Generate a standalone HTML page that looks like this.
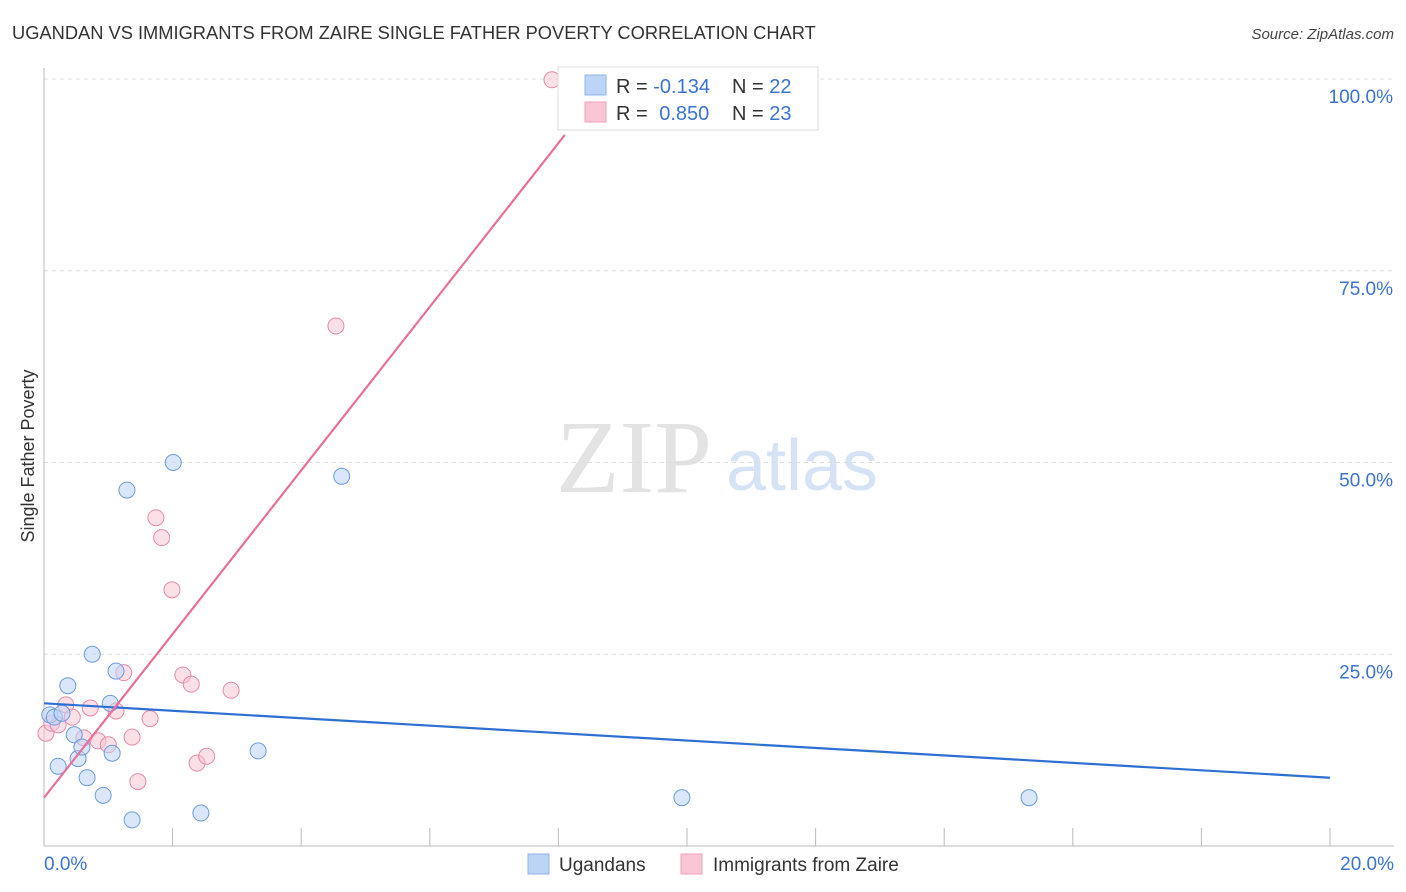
<!DOCTYPE html>
<html><head><meta charset="utf-8"><style>
body{margin:0;background:#fff;font-family:"Liberation Sans",sans-serif;}
#c{position:absolute;left:0;top:0;width:1406px;height:892px;overflow:hidden}
</style></head><body><div id="c">
<svg id="s" width="1406" height="892" xmlns="http://www.w3.org/2000/svg">
<text x="12" y="39" font-size="18.3" fill="#333">UGANDAN VS IMMIGRANTS FROM ZAIRE SINGLE FATHER POVERTY CORRELATION CHART</text>
<text x="1394" y="39" font-size="15" fill="#444" font-style="italic" text-anchor="end">Source: ZipAtlas.com</text>
<text x="634" y="492" font-size="104" fill="#e3e3e3" font-family="Liberation Serif,serif" text-anchor="middle">ZIP</text>
<text x="802" y="490" font-size="72" fill="#d5e3f5" text-anchor="middle">atlas</text>
<text transform="translate(34,456) rotate(-90)" font-size="18" fill="#333" text-anchor="middle">Single Father Poverty</text>
<g id="grid"></g><g id="marks"></g>
<g id="legend">
<rect x="558" y="67" width="260" height="63" fill="#fff" fill-opacity="0.9" stroke="#ddd"/>
<rect x="585" y="75" width="21" height="20" fill="#bcd4f5" stroke="#8fb3e8"/>
<rect x="585" y="102" width="21" height="20" fill="#f9c6d6" stroke="#eea0b9"/>
<text x="616" y="93" font-size="20" fill="#333">R = <tspan fill="#3a73d0">-0.134</tspan></text>
<text x="732" y="93" font-size="20" fill="#333">N = <tspan fill="#3a73d0">22</tspan></text>
<text x="616" y="120" font-size="20" fill="#333">R = <tspan fill="#3a73d0" dx="6">0.850</tspan></text>
<text x="732" y="120" font-size="20" fill="#333">N = <tspan fill="#3a73d0">23</tspan></text>
</g>
<g>
<rect x="528" y="854" width="21" height="20" fill="#bcd4f5" stroke="#8fb3e8"/>
<text x="559" y="871" font-size="19" fill="#333">Ugandans</text>
<rect x="681" y="854" width="21" height="20" fill="#f9c6d6" stroke="#eea0b9"/>
<text x="713" y="871" font-size="19" fill="#333">Immigrants from Zaire</text>
</g>
</svg></div>
<script>
const blueX=[0.09,0.16,0.22,0.28,0.37,0.47,0.53,0.59,0.67,0.75,0.92,1.03,1.06,1.12,1.29,1.37,2.01,2.44,3.33,4.63,9.92,15.32];
const blueY=[17.1,16.8,10.4,17.3,20.9,14.5,11.4,12.9,8.9,25.0,6.6,18.6,12.1,22.8,46.4,3.4,50.0,4.3,12.4,48.2,6.3,6.3];
const pinkX=[0.03,0.12,0.22,0.34,0.44,0.62,0.72,0.84,1.0,1.12,1.24,1.37,1.46,1.65,1.74,1.83,1.99,2.16,2.29,2.38,2.53,2.91,4.54,7.9];
const pinkY=[14.7,16.0,15.8,18.4,16.8,14.1,18.0,13.7,13.2,17.6,22.6,14.2,8.4,16.6,42.8,40.2,33.4,22.3,21.1,10.8,11.7,20.3,67.8,99.9];
const blueLine=[18.6,8.9];
const pinkLine=[6.3,92.7];
const pinkLineEndX=8.1;
const yTicks=[25,50,75,100];
const yTickLabels=["25.0%","50.0%","75.0%","100.0%"];
const xEnds=["0.0%","20.0%"];
const NS="http://www.w3.org/2000/svg";
const X=v=>44+v*64.3, Y=v=>846-v*7.67;
function mk(t,a,p){const e=document.createElementNS(NS,t);for(const k in a)e.setAttribute(k,a[k]);p.appendChild(e);return e;}
const g=document.getElementById('grid'), m=document.getElementById('marks');
yTicks.forEach((t,i)=>{
 const l=mk('line',{x1:44,x2:1394,y1:Y(t),y2:Y(t),stroke:'#ddd','stroke-dasharray':'4,4'},g);
 
 
 const tx=mk('text',{x:1393,y:Y(t)+24,'font-size':19,fill:'#3a73d0','text-anchor':'end'},g);
 tx.textContent=yTickLabels[i];
 
 
});
const ax=mk('line',{x1:44,x2:44,y1:68,y2:846,stroke:'#bbb'},g);


const xa=mk('line',{x1:44,x2:1394,y1:846,y2:846,stroke:'#bbb'},g);


for(let i=1;i<=10;i++){
 const t=mk('line',{x1:X(i*2),x2:X(i*2),y1:828,y2:846,stroke:'#bbb'},g);
 
 
}
[[0,'start',44],[20,'end',1394]].forEach((d,i)=>{
 const t=mk('text',{x:d[2],y:870,'font-size':19,fill:'#3a73d0','text-anchor':d[1]},g);
 t.textContent=xEnds[i];
 
 
});
function pts(xs,ys,f,s,n){xs.forEach((x,i)=>{
 const c=mk('circle',{cx:X(x),cy:Y(ys[i]),r:8,fill:f,'fill-opacity':0.55,stroke:s,'stroke-width':1},m);
 
 
});}
pts(pinkX,pinkY,'#f9c6d6','#e88aa8','point-zaire');
pts(blueX,blueY,'#bcd4f5','#6d9be0','point-ugandans');
const bl=mk('line',{x1:X(0),y1:Y(blueLine[0]),x2:X(20),y2:Y(blueLine[1]),stroke:'#2e6fd4','stroke-width':2.2},m);


const pl=mk('line',{x1:X(0),y1:Y(pinkLine[0]),x2:X(pinkLineEndX),y2:Y(pinkLine[1]),stroke:'#e8709a','stroke-width':2.2},m);


const lg=document.getElementById('legend');
lg.parentNode.appendChild(lg);
</script></body></html>
